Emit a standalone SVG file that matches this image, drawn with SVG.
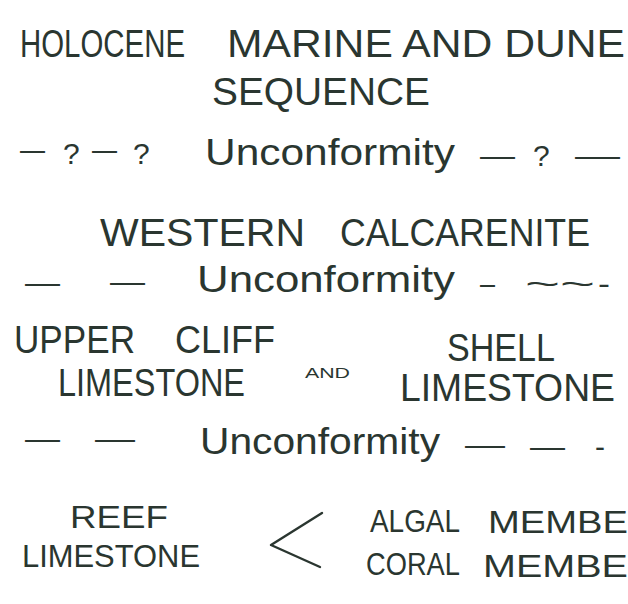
<svg xmlns="http://www.w3.org/2000/svg" width="628" height="604" viewBox="0 0 628 604">
<style>
text{font-family:"Liberation Sans","DejaVu Sans",sans-serif;fill:#2a3630}
.cap{font-size:38px}
.low{font-size:31px}
.uc{font-size:36px}
.d{font-size:30px}
.sm{font-size:14px}
.br{fill:none;stroke:#2a3630;stroke-width:2.4;stroke-linecap:round;stroke-linejoin:round}
</style>
<rect width="628" height="604" fill="#ffffff"/>
<g id="holocene">
<text class="cap" x="20" y="57" textLength="165" lengthAdjust="spacingAndGlyphs">HOLOCENE</text>
<text class="cap" x="227" y="57" textLength="398" lengthAdjust="spacingAndGlyphs">MARINE AND DUNE</text>
<text class="cap" x="212" y="105" textLength="218" lengthAdjust="spacingAndGlyphs">SEQUENCE</text>
</g>
<g id="unconformity1">
<text class="d" x="20" y="160" textLength="25" lengthAdjust="spacingAndGlyphs">—</text>
<text class="d" x="63" y="164">?</text>
<text class="d" x="92" y="160" textLength="25" lengthAdjust="spacingAndGlyphs">—</text>
<text class="d" x="133" y="164">?</text>
<text class="uc" x="205" y="165" textLength="250" lengthAdjust="spacingAndGlyphs">Unconformity</text>
<text class="d" x="480" y="166" textLength="35" lengthAdjust="spacingAndGlyphs">—</text>
<text class="d" x="533" y="166">?</text>
<text class="d" x="575" y="166" textLength="45" lengthAdjust="spacingAndGlyphs">—</text>
</g>
<g id="western">
<text class="cap" x="100" y="246" textLength="205" lengthAdjust="spacingAndGlyphs">WESTERN</text>
<text class="cap" x="340" y="246" textLength="250" lengthAdjust="spacingAndGlyphs">CALCARENITE</text>
</g>
<g id="unconformity2">
<text class="d" x="25" y="293" textLength="35" lengthAdjust="spacingAndGlyphs">—</text>
<text class="d" x="110" y="292" textLength="35" lengthAdjust="spacingAndGlyphs">—</text>
<text class="uc" x="197" y="292" textLength="258" lengthAdjust="spacingAndGlyphs">Unconformity</text>
<text class="d" x="480" y="294" textLength="15" lengthAdjust="spacingAndGlyphs">–</text>
<text class="d" x="525" y="294" textLength="70" lengthAdjust="spacingAndGlyphs">~~</text>
<text class="d" x="598" y="294" textLength="12" lengthAdjust="spacingAndGlyphs">-</text>
</g>
<g id="upper-cliff">
<text class="cap" x="14" y="353" textLength="121" lengthAdjust="spacingAndGlyphs">UPPER</text>
<text class="cap" x="175" y="353" textLength="100" lengthAdjust="spacingAndGlyphs">CLIFF</text>
<text class="cap" x="58" y="396" textLength="187" lengthAdjust="spacingAndGlyphs">LIMESTONE</text>
</g>
<g id="and">
<text class="sm" x="305" y="378" textLength="45" lengthAdjust="spacingAndGlyphs">AND</text>
</g>
<g id="shell">
<text class="cap" x="447" y="361" textLength="108" lengthAdjust="spacingAndGlyphs">SHELL</text>
<text class="cap" x="400" y="401" textLength="215" lengthAdjust="spacingAndGlyphs">LIMESTONE</text>
</g>
<g id="unconformity3">
<text class="d" x="25" y="449" textLength="35" lengthAdjust="spacingAndGlyphs">—</text>
<text class="d" x="95" y="449" textLength="40" lengthAdjust="spacingAndGlyphs">—</text>
<text class="uc" x="200" y="454" textLength="240" lengthAdjust="spacingAndGlyphs">Unconformity</text>
<text class="d" x="465" y="455" textLength="40" lengthAdjust="spacingAndGlyphs">—</text>
<text class="d" x="530" y="457" textLength="35" lengthAdjust="spacingAndGlyphs">—</text>
<text class="d" x="595" y="457" textLength="10" lengthAdjust="spacingAndGlyphs">-</text>
</g>
<g id="reef">
<text class="low" x="70" y="528" textLength="98" lengthAdjust="spacingAndGlyphs">REEF</text>
<text class="low" x="22" y="567" textLength="178" lengthAdjust="spacingAndGlyphs">LIMESTONE</text>
</g>
<g id="algal">
<text class="low" x="370" y="532" textLength="90" lengthAdjust="spacingAndGlyphs">ALGAL</text>
<text class="low" x="488" y="533" textLength="140" lengthAdjust="spacingAndGlyphs">MEMBE</text>
</g>
<g id="coral">
<text class="low" x="366" y="575" textLength="94" lengthAdjust="spacingAndGlyphs">CORAL</text>
<text class="low" x="483" y="577" textLength="145" lengthAdjust="spacingAndGlyphs">MEMBE</text>
</g>
<g id="connectors">
<polyline class="br" points="322,513 271,545 320,567"/>
</g>
</svg>
